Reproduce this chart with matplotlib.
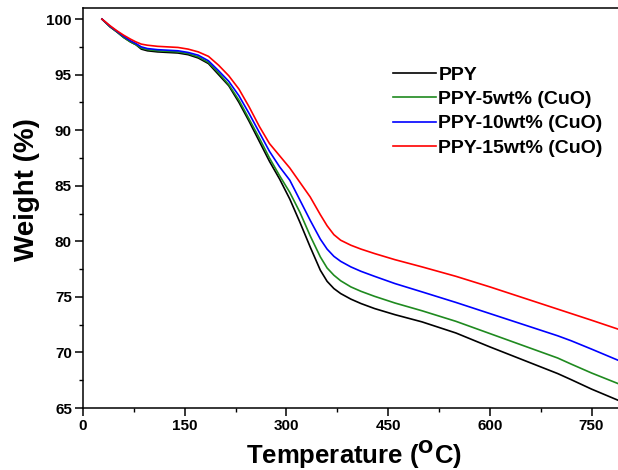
import matplotlib
matplotlib.use("Agg")
import matplotlib.pyplot as plt
from matplotlib.ticker import MultipleLocator

plt.rcParams['font.family'] = ['Liberation Sans', 'DejaVu Sans']
plt.rcParams['font.weight'] = 'bold'

temperature = [28, 40, 50, 60, 70, 78, 82, 86, 95, 110, 125, 140, 155, 170, 185, 200,
               215, 230, 245, 260, 275, 290, 305, 320, 335, 350, 360, 370, 380, 395, 410,
               430, 460, 500, 550, 600, 650, 700, 720, 750, 789]

ppy = [100, 99.3, 98.85, 98.35, 97.95, 97.7, 97.5, 97.3, 97.15, 97.05, 97.0, 96.95, 96.8,
       96.5, 96.0, 95.0, 94.0, 92.5, 90.8, 89.0, 87.2, 85.6, 83.8, 81.7, 79.5, 77.4,
       76.4, 75.75, 75.3, 74.8, 74.4, 73.95, 73.4, 72.75, 71.75, 70.5, 69.3, 68.1, 67.55, 66.7, 65.7]
ppy_5 = [100, 99.3, 98.85, 98.35, 97.95, 97.7, 97.55, 97.4, 97.25, 97.15, 97.1, 97.05, 96.9,
         96.6, 96.1, 95.15, 94.1, 92.7, 91.0, 89.3, 87.5, 85.9, 84.4, 82.6, 80.5, 78.6,
         77.6, 76.95, 76.45, 75.9, 75.5, 75.05, 74.45, 73.75, 72.8, 71.7, 70.6, 69.5, 68.95, 68.15, 67.2]
ppy_10 = [100, 99.35, 98.9, 98.45, 98.05, 97.8, 97.65, 97.5, 97.35, 97.25, 97.2, 97.15, 97.0,
          96.75, 96.25, 95.35, 94.4, 93.1, 91.5, 89.8, 88.1, 86.7, 85.5, 83.7, 81.9, 80.2,
          79.3, 78.65, 78.2, 77.7, 77.3, 76.85, 76.2, 75.45, 74.5, 73.5, 72.5, 71.5, 71.05, 70.3, 69.3]
ppy_15 = [100, 99.4, 98.95, 98.55, 98.2, 97.95, 97.85, 97.75, 97.65, 97.55, 97.5, 97.45, 97.3,
          97.05, 96.65, 95.85, 94.9, 93.7, 92.1, 90.35, 88.8, 87.7, 86.6, 85.3, 84.0, 82.4,
          81.4, 80.6, 80.1, 79.65, 79.3, 78.9, 78.35, 77.7, 76.85, 75.9, 74.9, 73.9, 73.5, 72.9, 72.1]

labels = ["PPY", "PPY-5wt% (CuO)", "PPY-10wt% (CuO)", "PPY-15wt% (CuO)"]
colors = ["#000000", "#1f8a1f", "#0000ff", "#ff0000"]

fig = plt.figure(figsize=(6.18, 4.70), dpi=100)
ax = fig.add_axes([83/618, 1-408/470, 1-83/618, 400/470])

for y, lab, c in zip([ppy, ppy_5, ppy_10, ppy_15], labels, colors):
    ax.plot(temperature, y, color=c, lw=1.2, label=lab, solid_joinstyle='round')

ax.set_xlim(0, 789)
ax.set_ylim(65, 101)
ax.xaxis.set_major_locator(MultipleLocator(150))
ax.xaxis.set_minor_locator(MultipleLocator(75))
ax.yaxis.set_major_locator(MultipleLocator(5))
ax.yaxis.set_minor_locator(MultipleLocator(2.5))
ax.tick_params(which='major', direction='out', length=5.5, width=1.1, labelsize=11, pad=2.5)
ax.tick_params(which='minor', direction='out', length=3, width=1.0)
for lbl in ax.get_xticklabels() + ax.get_yticklabels():
    lbl.set_fontweight('bold')
for s in ['left', 'bottom', 'top']:
    ax.spines[s].set_linewidth(1.1)
ax.spines['right'].set_visible(False)

ax.set_xlabel("Temperature ($\\mathbf{^{O}}$C)", fontsize=18.5, fontweight='bold')
ax.xaxis.set_label_coords(0.507, -0.074)
ax.set_ylabel("Weight (%)", fontsize=20, fontweight='bold')
ax.yaxis.set_label_coords(-0.080, 0.545)

leg = ax.legend(loc='upper left', bbox_to_anchor=(0.579, 0.855), frameon=False,
                fontsize=14, handlelength=2.2, handletextpad=0.15, labelspacing=0.35,
                borderaxespad=0, borderpad=0)
for t in leg.get_texts():
    t.set_fontweight('bold')

fig.savefig("out.png", dpi=100)
